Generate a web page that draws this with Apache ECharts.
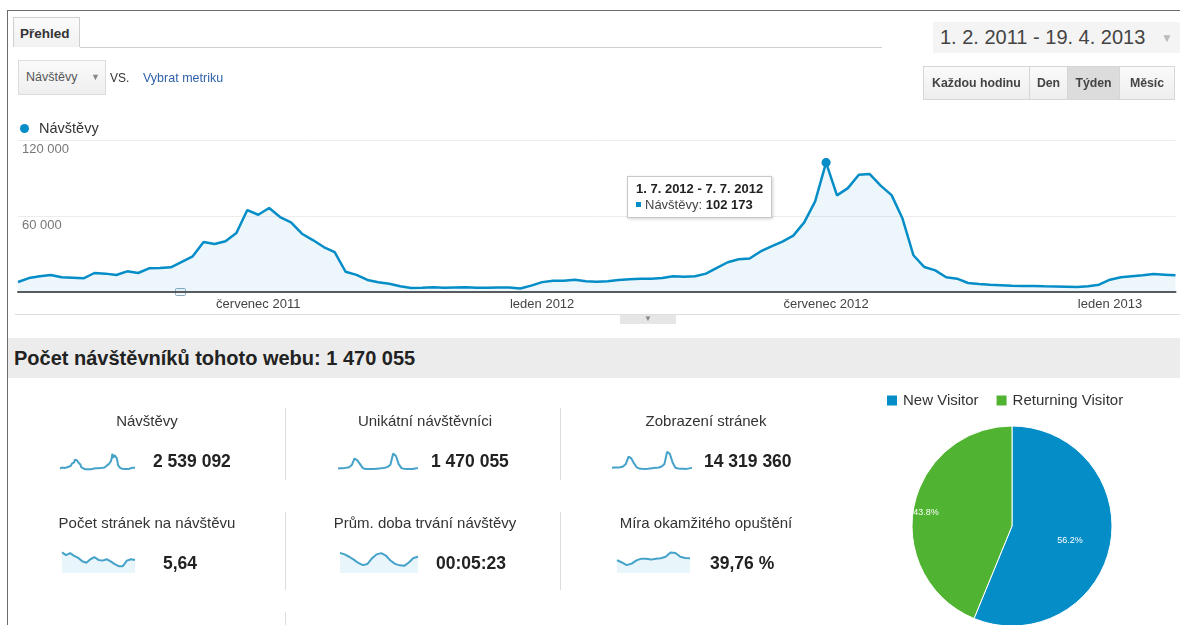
<!DOCTYPE html>
<html lang="cs">
<head>
<meta charset="utf-8">
<title>Přehled – Návštěvy</title>
<script src="https://cdn.jsdelivr.net/npm/echarts/dist/echarts.min.js"></script>
<style>
  html, body { margin: 0; padding: 0; background: #fff; }
  body { width: 1180px; height: 625px; position: relative; overflow: hidden;
         font-family: Arial, "Liberation Sans", sans-serif; color: #333; }
  #chart { position: absolute; left: 0; top: 0; width: 1180px; height: 625px; }
  .abs { position: absolute; }
  .frame-top { left: 7px; top: 10px; right: 0; height: 0; border-top: 1px solid #6b6b6b; }
  .frame-left { left: 7px; top: 10px; bottom: 0; width: 0; border-left: 1px solid #6b6b6b; }
  .tab { left: 13px; top: 17px; width: 67px; height: 30px; border: 1px solid #cfcfcf; border-bottom: none;
         background: linear-gradient(#fbfbfb, #f1f1f1); font-weight: bold; font-size: 13.5px; line-height: 31px;
         padding-left: 6px; box-sizing: border-box; color: #333; }
  .tabline { left: 80px; top: 47px; width: 802px; height: 0; border-top: 1px solid #cfcfcf; }
  .dd { left: 18px; top: 60px; width: 88px; height: 35px; border: 1px solid #dcdcdc; box-sizing: border-box;
        background: linear-gradient(#fafafa, #efefef); font-size: 12.5px; line-height: 33px; color: #555; padding-left: 7px; }
  .dd .arr { position: absolute; left: 72px; top: 0; color: #888; font-size: 9px; }
  .vs { left: 110px; top: 71px; font-size: 12px; color: #333; }
  .pick { left: 143px; top: 71px; font-size: 12.5px; color: #2f62a8; }
  .range { left: 933px; top: 22px; width: 247px; height: 31px; background: #f4f4f4; font-size: 20px; color: #444;
           line-height: 31px; padding-left: 7px; box-sizing: border-box; white-space: nowrap; }
  .range .arr { position: absolute; left: 228px; top: 1px; color: #bbb; font-size: 12px; }
  .btns { left: 923px; top: 66px; height: 34px; display: flex; }
  .btn { height: 34px; box-sizing: border-box; border: 1px solid #d6d6d6; border-left: none;
         background: linear-gradient(#fafafa, #eeeeee); font-size: 12.3px; font-weight: bold; color: #444;
         line-height: 32px; text-align: center; white-space: nowrap; }
  .btn:first-child { border-left: 1px solid #d6d6d6; }
  .btn.on { background: #dcdcdc; }
  .sep { left: 15px; top: 314px; right: 0; height: 0; border-top: 1px solid #dedede; }
  .handle { left: 620px; top: 315px; width: 56px; height: 9px; background: #e6e6e6; color: #888;
            font-size: 8px; line-height: 8px; text-align: center; }
  .bar { left: 8px; top: 338px; right: 0; height: 40px; background: #ececec; font-size: 20px; font-weight: bold;
         color: #222; line-height: 40px; padding-left: 6px; }
  .title { font-size: 15px; color: #333; white-space: nowrap; transform: translateX(-50%); }
  .value { font-size: 17.5px; font-weight: bold; color: #222; white-space: nowrap; }
  .vline { width: 0; border-left: 1px solid #dcdcdc; }
</style>
</head>
<body>
<div id="chart"></div>
<div id="chrome"></div>
<script>
// Weekly visits, weeks starting on Sunday from 30. 1. 2011
const visits = [
  7900, 11000, 12400, 13400, 11600, 11300, 10800, 15000, 14500, 13400,
  16300, 15000, 18700, 19000, 19500, 23700, 28200, 39500, 37900, 40000,
  46600, 64700, 61000, 66300, 59200, 55000, 46000, 41000, 35500, 31500,
  16000, 13500, 9500, 7700, 6500, 4500, 3200, 3300, 3700, 3400,
  3600, 3800, 3400, 3300, 3600, 3600, 2700, 5000, 7800, 8800,
  8900, 9600, 8500, 8000, 8500, 9500, 10100, 10400, 10500, 11000,
  12400, 12100, 12400, 14500, 19000, 23500, 25800, 26500, 32000, 36000,
  39800, 44500, 55000, 71600, 102173, 76300, 82000, 92600, 93100, 84000,
  76500, 58000, 29000, 19700, 17100, 11600, 10500, 7100, 6300, 5800,
  5400, 4900, 4700, 4700, 4500, 4400, 4200, 3900, 4500, 5800,
  9700, 11600, 12400, 13200, 14200, 13700, 13200
];
const firstWeek = new Date(2011, 0, 30);
const highlightIndex = 74;

// Month labels on the time axis (week index -> label)
const tickIndex = [22, 48, 74, 100];
const tickLabels = ['červenec 2011', 'leden 2012', 'červenec 2012', 'leden 2013'];
const yTicks = [0, 60000, 120000];

// Summary tiles
const metricNames = ['Návštěvy', 'Unikátní návštěvníci', 'Zobrazení stránek',
                     'Počet stránek na návštěvu', 'Prům. doba trvání návštěvy', 'Míra okamžitého opuštění'];
const metricValues = ['2 539 092', '1 470 055', '14 319 360', '5,64', '00:05:23', '39,76 %'];
const headline = 'Počet návštěvníků tohoto webu: 1 470 055';

// Sparkline series (approximate trend of each metric)
const sparkUnique = [4, 5, 5, 6, 8, 15, 36, 30, 18, 5, 2, 2, 2, 2, 3, 4, 5, 6, 9, 16, 52, 44, 18, 5, 3, 2, 2, 2, 4, 5];
const sparkPageviews = [30, 33, 35, 38, 50, 90, 210, 180, 100, 35, 15, 13, 12, 13, 20, 25, 30, 35, 50, 90, 290, 250, 110, 30, 18, 14, 13, 12, 20, 28];
const sparkPagesPerVisit = [6.2, 6.0, 6.15, 5.95, 5.8, 5.55, 5.45, 5.7, 5.85, 5.65, 5.6, 5.7, 5.55, 5.35, 5.2, 5.2, 5.6, 5.7, 5.65];
const sparkDuration = [352, 346, 336, 324, 310, 301, 306, 330, 346, 351, 341, 320, 306, 300, 298, 312, 331, 336];
const sparkBounce = [40.2, 39.0, 37.6, 38.4, 40.1, 41.0, 40.9, 40.5, 41.0, 41.2, 42.0, 44.2, 44.0, 42.0, 41.3, 41.2];

// Visitor types
const visitorTypes = ['New Visitor', 'Returning Visitor'];
const visitorShare = [56.2, 43.8];
const visitorColors = ['#058dc7', '#50b432'];

const BLUE = '#058dc7';
const SPARK = '#45a2c9';
const FONT = 'Arial, "Liberation Sans", sans-serif';

function fmtDate(d) { return d.getDate() + '. ' + (d.getMonth() + 1) + '. ' + d.getFullYear(); }
function fmtNum(n) { return String(n).replace(/\B(?=(\d{3})+(?!\d))/g, ' '); }

const weeks = visits.map((_, i) => {
  const d = new Date(firstWeek); d.setDate(d.getDate() + 7 * i); return d;
});
const weekLabels = weeks.map(fmtDate);

// ---- page chrome (HTML) ----
const chrome = document.getElementById('chrome');
function el(cls, html, style) {
  const d = document.createElement('div');
  d.className = 'abs ' + cls;
  if (html != null) d.innerHTML = html;
  if (style) Object.assign(d.style, style);
  chrome.appendChild(d);
  return d;
}
el('frame-top'); el('frame-left');
el('tab', 'Přehled'); el('tabline');
el('dd', 'Návštěvy<span class="arr">▼</span>');
el('vs', 'VS.'); el('pick', 'Vybrat metriku');
el('range', '1. 2. 2011 - 19. 4. 2013<span class="arr">▼</span>');
const btnWrap = el('btns', '');
[['Každou hodinu', 107], ['Den', 38], ['Týden', 52, true], ['Měsíc', 55]].forEach(b => {
  const s = document.createElement('div');
  s.className = 'btn' + (b[2] ? ' on' : '');
  s.style.width = b[1] + 'px';
  s.textContent = b[0];
  btnWrap.appendChild(s);
});
el('sep'); el('handle', '▼');
el('bar', headline);

const colCenter = [147, 425, 706];
const titleTop = [412, 514];
const valueLeft = [[153, 431, 704], [163, 436, 710]];
const valueTop = [451, 553];
metricNames.forEach((name, i) => {
  const r = Math.floor(i / 3), c = i % 3;
  el('title', name, { left: colCenter[c] + 'px', top: titleTop[r] + 'px' });
  el('value', metricValues[i], { left: valueLeft[r][c] + 'px', top: valueTop[r] + 'px' });
});
[[408, 72], [512, 78], [612, 13]].forEach(v => {
  [285, 560].forEach((x, k) => {
    if (v[1] === 13 && k === 1) return;
    el('vline', null, { left: x + 'px', top: v[0] + 'px', height: v[1] + 'px' });
  });
});

// ---- charts ----
const chart = echarts.init(document.getElementById('chart'), null, { renderer: 'canvas' });

const sparkDefs = [
  { data: visits, box: [60, 451, 75, 19], min: -2000, area: false },
  { data: sparkUnique, box: [338, 451, 80, 19], min: -1, area: false },
  { data: sparkPageviews, box: [612, 451, 80, 19], min: -6, area: false },
  { data: sparkPagesPerVisit, box: [62, 551, 73, 22], min: 4.7, max: 6.3, area: true },
  { data: sparkDuration, box: [340, 551, 78, 22], min: 268, max: 360, area: true },
  { data: sparkBounce, box: [617, 551, 73, 22], min: 33.5, max: 45, area: true }
];

const grids = [{ left: 18, top: 140, width: 1157.5, height: 152 }];
const xAxes = [{
  type: 'category', gridIndex: 0, data: weekLabels, boundaryGap: false,
  axisLine: { show: true, lineStyle: { color: '#5a5a5a', width: 2 } },
  axisTick: { show: false },
  axisLabel: {
    interval: idx => tickIndex.indexOf(idx) >= 0,
    formatter: (v, idx) => { const k = tickIndex.indexOf(idx); return k >= 0 ? tickLabels[k] : ''; },
    color: '#444', fontSize: 13, margin: 6, fontFamily: FONT
  },
  splitLine: { show: false }
}];
const yAxes = [{
  type: 'value', gridIndex: 0, min: yTicks[0], max: yTicks[yTicks.length - 1], interval: yTicks[1] - yTicks[0],
  axisLine: { show: false }, axisTick: { show: false },
  splitLine: { lineStyle: { color: '#ececec' } },
  axisLabel: {
    inside: true, margin: 4, verticalAlign: 'top', padding: [3, 0, 0, 0], color: '#777', fontSize: 13,
    fontFamily: FONT,
    formatter: v => v === 0 ? '' : fmtNum(v)
  }
}];
const series = [{
  name: 'Návštěvy', type: 'line', xAxisIndex: 0, yAxisIndex: 0, data: visits,
  showSymbol: false, smooth: false,
  lineStyle: { color: BLUE, width: 2.5 }, itemStyle: { color: BLUE },
  areaStyle: { color: 'rgba(5,141,199,0.10)' },
  emphasis: { disabled: true },
  markPoint: {
    silent: true, symbol: 'circle', symbolSize: 9, itemStyle: { color: BLUE },
    label: { show: false },
    data: [{ coord: [highlightIndex, visits[highlightIndex]] }]
  }
}];

sparkDefs.forEach((s, i) => {
  const g = i + 1;
  grids.push({ left: s.box[0], top: s.box[1], width: s.box[2], height: s.box[3] });
  xAxes.push({ type: 'category', gridIndex: g, show: false, boundaryGap: false, data: s.data.map((_, k) => k) });
  const ya = { type: 'value', gridIndex: g, show: false, min: s.min, scale: true, splitLine: { show: false } };
  if (s.max != null) ya.max = s.max;
  yAxes.push(ya);
  series.push({
    type: 'line', xAxisIndex: g, yAxisIndex: g, data: s.data, showSymbol: false, silent: true,
    lineStyle: { color: SPARK, width: 2 },
    areaStyle: s.area ? { color: 'rgba(5,141,199,0.13)', origin: 'start' } : undefined,
    tooltip: { show: false }, emphasis: { disabled: true }
  });
});

series.push({
  name: 'Typ návštěvníka', type: 'pie', center: [1012, 526], radius: 100, startAngle: 90,
  data: visitorTypes.map((n, i) => ({ name: n, value: visitorShare[i], itemStyle: { color: visitorColors[i] } })),
  itemStyle: { borderColor: '#fff', borderWidth: 1 },
  label: { show: true, position: 'inside', color: '#fff', fontSize: 9,
           formatter: p => p.value.toFixed(1) + '%' },
  labelLine: { show: false },
  labelLayout: p => (p.dataIndex === 1 ? { dx: -34, dy: -3 } : { dx: 6, dy: 4 }),
  emphasis: { disabled: true }, silent: true, tooltip: { show: false }
});

chart.setOption({
  animation: false,
  textStyle: { fontFamily: FONT },
  grid: grids, xAxis: xAxes, yAxis: yAxes, series: series,
  legend: [
    { data: ['Návštěvy'], left: 15, top: 116, icon: 'circle', itemWidth: 9, itemHeight: 9, selectedMode: false,
      textStyle: { fontSize: 14.5, color: '#333', padding: [0, 0, 0, 5] } },
    { data: visitorTypes, left: 880, top: 388, icon: 'rect', itemWidth: 12, itemHeight: 12, itemGap: 16,
      selectedMode: false, textStyle: { fontSize: 15, color: '#333' } }
  ],
  tooltip: {
    trigger: 'axis', triggerOn: 'none', alwaysShowContent: true, axisPointer: { type: 'none' },
    position: [627, 176], backgroundColor: '#fff', borderColor: '#c8c8c8', borderWidth: 1, borderRadius: 0,
    padding: [4, 8, 4, 8], extraCssText: 'box-shadow: 1px 1px 3px rgba(0,0,0,0.18);',
    formatter: params => {
      const p = Array.isArray(params) ? params[0] : params;
      const start = weeks[p.dataIndex];
      const end = new Date(start); end.setDate(end.getDate() + 6);
      return '<div style="font:bold 13px Arial, \'Liberation Sans\', sans-serif;color:#222;line-height:16px">' +
        fmtDate(start) + ' - ' + fmtDate(end) + '</div>' +
        '<div style="font:13px Arial, \'Liberation Sans\', sans-serif;color:#444;line-height:16px">' +
        '<span style="display:inline-block;width:5px;height:5px;background:' + BLUE + ';margin:0 4px 2px 0"></span>' +
        p.seriesName + ': <b style="color:#222">' + fmtNum(p.value) + '</b></div>';
    }
  },
  graphic: [{
    type: 'rect', left: 175, top: 288, shape: { width: 10, height: 7, r: 1 },
    style: { fill: '#f4f8fb', stroke: '#8aa9c0', lineWidth: 1 }, silent: true
  }]
});

chart.dispatchAction({ type: 'showTip', seriesIndex: 0, dataIndex: highlightIndex });
</script>
</body>
</html>
